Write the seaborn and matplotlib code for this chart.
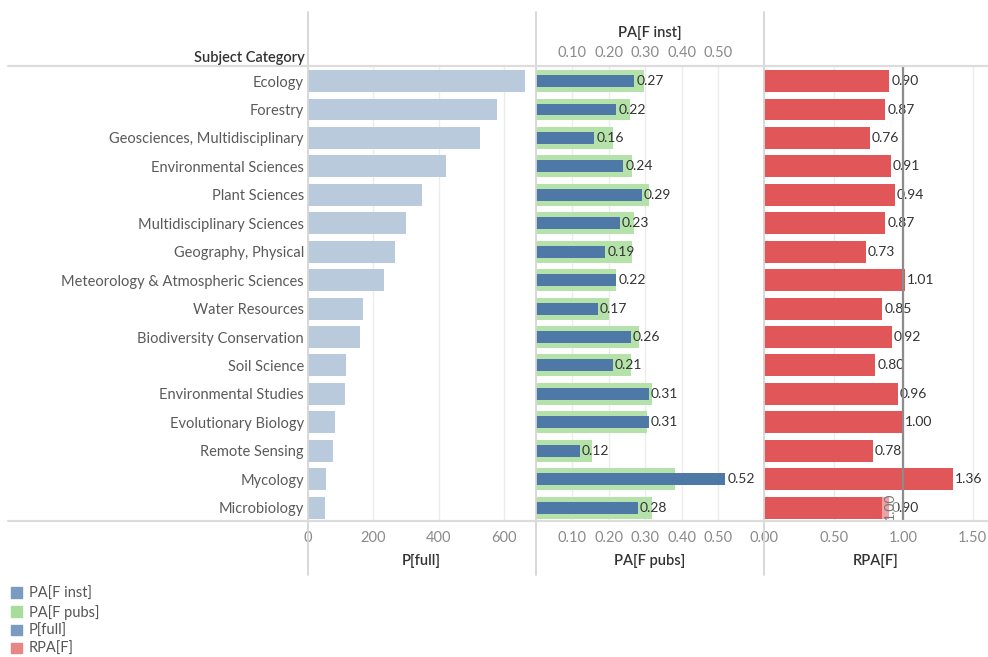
import pandas as pd
import matplotlib
matplotlib.use("Agg")
import matplotlib.pyplot as plt
from matplotlib.lines import Line2D
from matplotlib.patches import Patch
import seaborn as sns

categories = ["Ecology", "Forestry", "Geosciences, Multidisciplinary", "Environmental Sciences",
              "Plant Sciences", "Multidisciplinary Sciences", "Geography, Physical",
              "Meteorology & Atmospheric Sciences", "Water Resources", "Biodiversity Conservation",
              "Soil Science", "Environmental Studies", "Evolutionary Biology", "Remote Sensing",
              "Mycology", "Microbiology"]
p_full = [664, 578, 526, 422, 349, 300, 266, 232, 168, 159, 116, 113, 83, 76, 55, 52]
pa_f_inst = [0.27, 0.22, 0.16, 0.24, 0.29, 0.23, 0.19, 0.22, 0.17, 0.26, 0.21, 0.31, 0.31, 0.12, 0.52, 0.28]
pa_f_pubs = [0.296, 0.258, 0.21, 0.264, 0.311, 0.27, 0.264, 0.22, 0.199, 0.283, 0.262, 0.319, 0.305, 0.155, 0.382, 0.319]
rpa_f = [0.90, 0.87, 0.76, 0.91, 0.94, 0.87, 0.73, 1.01, 0.85, 0.92, 0.80, 0.96, 1.00, 0.78, 1.36, 0.90]

df = pd.DataFrame({"cat": categories, "p_full": p_full, "inst": pa_f_inst,
                   "pubs": pa_f_pubs, "rpa": rpa_f})

sns.set_theme(style="white")
plt.rcParams["font.family"] = ["Lato", "DejaVu Sans"]

W, H = 988, 657
fig = plt.figure(figsize=(W / 100, H / 100), dpi=100)

def box(x0, x1, y0=66, y1=521):
    return [x0 / W, 1 - y1 / H, (x1 - x0) / W, (y1 - y0) / H]

ax1 = fig.add_axes(box(308, 535))
ax2 = fig.add_axes(box(536, 763))
ax3 = fig.add_axes(box(764, 988))

tick_col = "#8a8a8a"
title_col = "#333333"
grid_col = "#ececec"
fmt2 = matplotlib.ticker.FormatStrFormatter("%.2f")

# P[full]
sns.barplot(data=df, y="cat", x="p_full", color="#b9cadc", width=0.77, saturation=1,
            linewidth=0, ax=ax1)
ax1.set_xlim(0, 694)
ax1.set_xticks([0, 200, 400, 600])

# PA[F pubs] (wide) + PA[F inst] (narrow)
sns.barplot(data=df, y="cat", x="pubs", color="#b5e2a9", width=0.77, saturation=1,
            linewidth=0, ax=ax2)
sns.barplot(data=df, y="cat", x="inst", color="#4e79a7", width=0.42, saturation=1,
            linewidth=0, ax=ax2)
ax2.bar_label(ax2.containers[-1], fmt="%.2f", padding=1.5, fontsize=10, color=title_col)
ax2.set_xlim(0, 0.623)
ax2.set_xticks([0.1, 0.2, 0.3, 0.4, 0.5])
ax2.xaxis.set_major_formatter(fmt2)

# RPA[F]
sns.barplot(data=df, y="cat", x="rpa", color="#e15759", width=0.77, saturation=1,
            linewidth=0, ax=ax3)
ax3.bar_label(ax3.containers[-1], fmt="%.2f", padding=1.5, fontsize=10, color=title_col)
ax3.set_xlim(0, 1.61)
ax3.set_xticks([0, 0.5, 1.0, 1.5])
ax3.xaxis.set_major_formatter(fmt2)
ax3.axvline(1.0, color="#8c8c8c", lw=1.6, zorder=5)
ax3.text(0.905, 15.45, "1.00", rotation=90, ha="center", va="bottom", fontsize=10, color="#777777",
         bbox=dict(boxstyle="square,pad=0.12", facecolor="white", edgecolor="none", alpha=0.45), zorder=6)

for ax in (ax1, ax2, ax3):
    ax.set_ylim(15.47, -0.53)
    ax.set_ylabel("")
    for s in ax.spines.values():
        s.set_visible(False)
    ax.grid(axis="x", color=grid_col, lw=1)
    ax.set_axisbelow(True)
    ax.tick_params(axis="x", length=0, pad=7, labelsize=10.5, labelcolor=tick_col)
    ax.tick_params(axis="y", length=0)

ax1.tick_params(axis="y", pad=3, labelsize=10.5, labelcolor="#5a5a5a")
ax2.set_yticklabels([])
ax3.set_yticklabels([])

for ax, lab in ((ax1, "P[full]"), (ax2, "PA[F pubs]"), (ax3, "RPA[F]")):
    ax.set_xlabel(lab, color=title_col, fontsize=10.5, fontweight="semibold")
    ax.xaxis.set_label_coords(0.5, -(561 - 521) / 455)
    ax.xaxis.label.set_va("center")

sec = ax2.secondary_xaxis("top")
sec.set_xticks([0.1, 0.2, 0.3, 0.4, 0.5])
sec.xaxis.set_major_formatter(fmt2)
sec.tick_params(length=0, pad=4.5, labelsize=10.5, labelcolor=tick_col)
for s in sec.spines.values():
    s.set_visible(False)
sec.set_xlabel("PA[F inst]", color=title_col, fontsize=10.5, fontweight="semibold", labelpad=6)

fig.text(305 / W, 1 - 58 / H, "Subject Category", ha="right", va="center",
         fontsize=10.5, fontweight="semibold", color=title_col)

# separators
for x in (308, 536, 764):
    fig.add_artist(Line2D([x / W, x / W], [1 - 12 / H, 1 - 575 / H], color="#d6d6d6", lw=1.3))
for y in (66, 521):
    fig.add_artist(Line2D([8 / W, 1], [1 - y / H, 1 - y / H], color="#dcdcdc", lw=1.6))

handles = [Patch(color="#7b9cc0", label="PA[F inst]"),
           Patch(color="#a7dc9b", label="PA[F pubs]"),
           Patch(color="#7b9cc0", label="P[full]"),
           Patch(color="#e88585", label="RPA[F]")]
fig.legend(handles=handles, loc="upper left", bbox_to_anchor=(5 / W, 1 - 581 / H), frameon=False,
           handlelength=0.75, handleheight=0.75, handletextpad=0.5, labelspacing=0.28,
           fontsize=10.5, labelcolor="#555555", borderaxespad=0)

fig.savefig("out.png", dpi=100)
